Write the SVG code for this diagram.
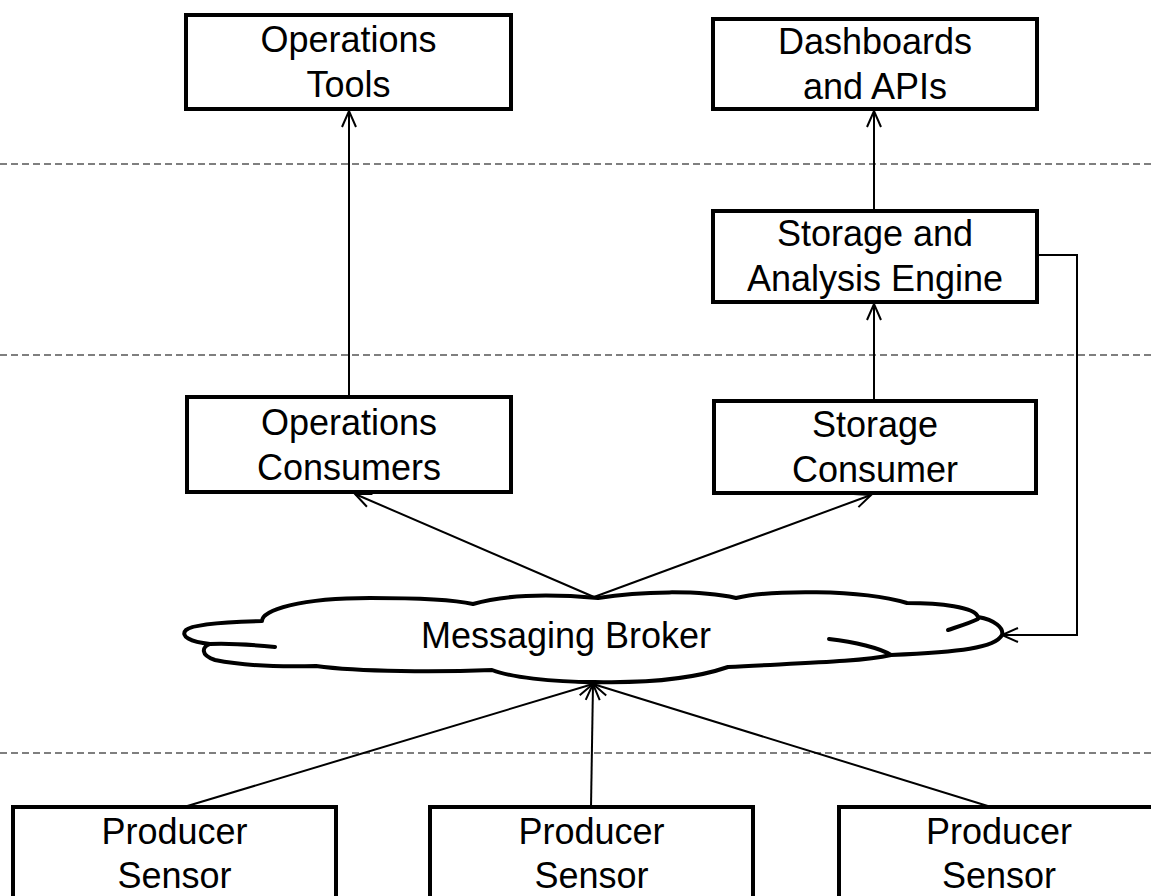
<svg xmlns="http://www.w3.org/2000/svg" width="1151" height="896" viewBox="0 0 1151 896">
<style>
.box{fill:#fff;stroke:#000;stroke-width:4}
.t{font-family:"Liberation Sans",Arial,sans-serif;font-size:36px;fill:#000;text-anchor:middle}
.dash{stroke:#7f7f7f;stroke-width:2;stroke-dasharray:7 4;fill:none}
.c{stroke:#000;stroke-width:2;fill:none}
.cloud{fill:#fff;stroke:#000;stroke-width:4;stroke-linejoin:round;stroke-linecap:round}
</style>
<defs>
<marker id="ah" markerUnits="userSpaceOnUse" markerWidth="40" markerHeight="40" viewBox="-20 -20 40 40" refX="0" refY="0" orient="auto">
<path d="M -16 -7 L 0 0 L -16 7" fill="none" stroke="#000" stroke-width="2"/>
</marker>
</defs>
<rect width="1151" height="896" fill="#fff"/>
<g id="layers">
<line class="dash" x1="0" y1="164" x2="1151" y2="164"/>
<line class="dash" x1="0" y1="355" x2="1151" y2="355"/>
<line class="dash" x1="0" y1="753" x2="1151" y2="753"/>
</g>
<g id="connectors">
<line class="c" x1="349" y1="397" x2="349" y2="111" marker-end="url(#ah)"/>
<line class="c" x1="874" y1="211" x2="874" y2="111" marker-end="url(#ah)"/>
<line class="c" x1="874" y1="401" x2="874" y2="304" marker-end="url(#ah)"/>
<line class="c" x1="594" y1="597" x2="355" y2="494" marker-end="url(#ah)"/>
<line class="c" x1="594" y1="597" x2="871" y2="495" marker-end="url(#ah)"/>
<polyline class="c" points="1039,255 1077,255 1077,635 1002,635" marker-end="url(#ah)"/>
<line class="c" x1="184" y1="807" x2="593" y2="684" marker-end="url(#ah)"/>
<line class="c" x1="591" y1="807" x2="593" y2="684" marker-end="url(#ah)"/>
<line class="c" x1="991" y1="807" x2="593" y2="684" marker-end="url(#ah)"/>
</g>
<g id="ops-tools">
<rect class="box" x="186" y="15" width="325" height="94"/>
<text class="t" x="348.5" y="52">Operations</text>
<text class="t" x="348.5" y="97">Tools</text>
</g>
<g id="dashboards">
<rect class="box" x="713" y="19" width="324" height="90"/>
<text class="t" x="875" y="54">Dashboards</text>
<text class="t" x="875" y="99">and APIs</text>
</g>
<g id="storage-engine">
<rect class="box" x="713" y="211" width="324" height="91"/>
<text class="t" x="875" y="246">Storage and</text>
<text class="t" x="875" y="291">Analysis Engine</text>
</g>
<g id="ops-consumers">
<rect class="box" x="187" y="397" width="324" height="95"/>
<text class="t" x="349" y="435">Operations</text>
<text class="t" x="349" y="480">Consumers</text>
</g>
<g id="storage-consumer">
<rect class="box" x="714" y="401" width="322" height="92"/>
<text class="t" x="875" y="437">Storage</text>
<text class="t" x="875" y="482">Consumer</text>
</g>
<g id="broker">
<path class="cloud" d="M 210,644 C 190,642 180,636 186,630 C 192,624 225,622 262,621 C 262,610 300,598 370,598 C 420,598 455,600 473,604 C 500,596 540,593 598,598 C 640,591 700,590 736,598 C 770,590 860,589 907,603 C 940,603 975,607 978,617 C 995,620 1004,628 1002,635 C 995,648 960,652 891,655 C 860,662 800,663 728,667 C 690,680 640,683 595,682 C 550,682 510,677 492,670 C 440,672 360,672 316,666 C 280,667 240,665 215,660 C 200,655 202,647 210,644 Z"/>
<path class="cloud" fill="none" d="M 210,644 C 230,643 255,645 275,647"/>
<path class="cloud" fill="none" d="M 829,639 C 855,642 880,648 891,655"/>
<path class="cloud" fill="none" d="M 948,630 C 960,626 970,623 978,619"/>
<text class="t" x="566" y="648">Messaging Broker</text>
</g>
<g id="producer-1">
<rect class="box" x="13" y="807" width="323" height="96"/>
<text class="t" x="174.5" y="844">Producer</text>
<text class="t" x="174.5" y="888">Sensor</text>
</g>
<g id="producer-2">
<rect class="box" x="430" y="807" width="323" height="96"/>
<text class="t" x="591.5" y="844">Producer</text>
<text class="t" x="591.5" y="888">Sensor</text>
</g>
<g id="producer-3">
<rect class="box" x="839" y="807" width="323" height="96"/>
<text class="t" x="999" y="844">Producer</text>
<text class="t" x="999" y="888">Sensor</text>
</g>
</svg>
